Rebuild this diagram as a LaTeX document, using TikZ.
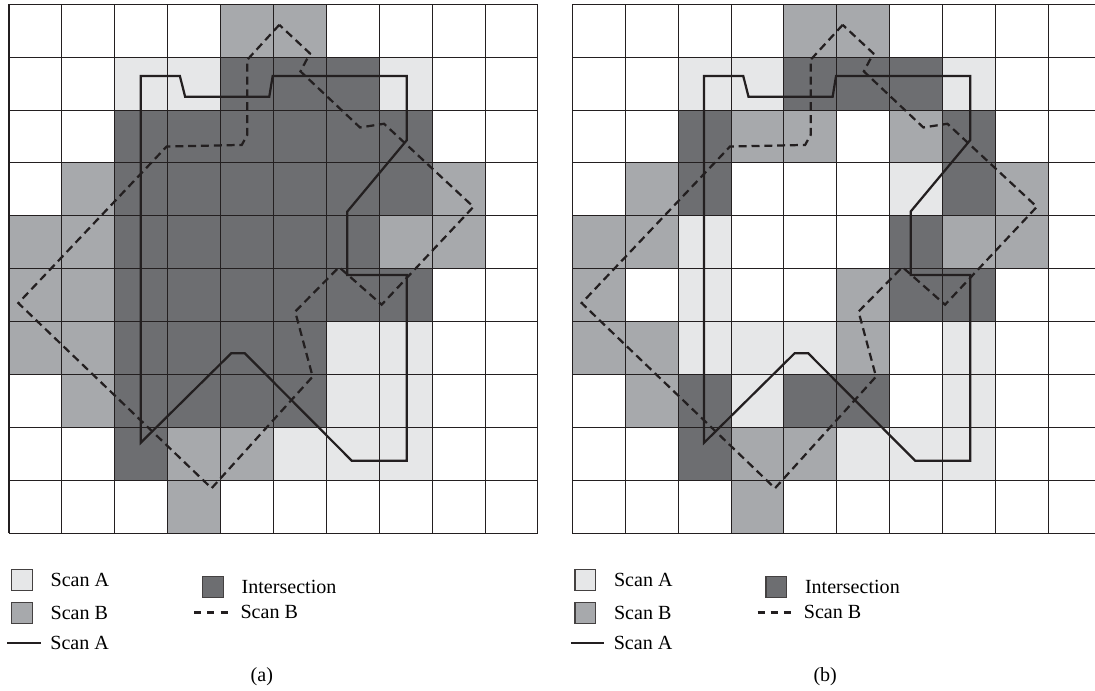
\documentclass[tikz,border=0pt]{standalone}
\usepackage{fontspec}
\setmainfont{Liberation Serif}
\usetikzlibrary{positioning}

\definecolor{scanA}{HTML}{E6E7E8}
\definecolor{scanB}{HTML}{A7A9AC}
\definecolor{both}{HTML}{6D6E71}
\definecolor{ink}{HTML}{231F20}

\begin{document}
\begin{tikzpicture}[
  gridline/.style={draw=ink, line width=0.55pt},
  outlineA/.style={draw=ink, line width=1.2pt, line join=miter},
  outlineB/.style={draw=ink, line width=1.2pt, dash pattern=on 4.3pt off 2.6pt},
  keydash/.style={draw=ink, line width=1.2pt, dash pattern=on 3.8pt off 3.3pt},
  swatch/.style={draw=ink!85, line width=0.6pt, minimum size=0.39cm, inner sep=0pt},
  keytext/.style={font=\fontsize{10.8}{12}\selectfont, inner sep=0pt},
]
\useasboundingbox (-0.17,-2.98) rectangle (20.53,10.08);

% === Panel (a): union of the two scans ===
\begin{scope}
  \foreach \c/\r in {2/8,3/8,7/8,6/3,7/3,6/2,7/2,5/1,6/1,7/1}
    \fill[scanA] (\c,\r) rectangle ++(1,1);
  \foreach \c/\r in {4/9,5/9,1/6,8/6,0/5,1/5,7/5,8/5,0/4,1/4,0/3,1/3,1/2,3/1,4/1,3/0}
    \fill[scanB] (\c,\r) rectangle ++(1,1);
  \foreach \c/\r in {4/8,5/8,6/8,
                     2/7,3/7,4/7,5/7,6/7,7/7,
                     2/6,3/6,4/6,5/6,6/6,7/6,
                     2/5,3/5,4/5,5/5,6/5,
                     2/4,3/4,4/4,5/4,6/4,7/4,
                     2/3,3/3,4/3,5/3,
                     2/2,3/2,4/2,5/2,
                     2/1}
    \fill[both] (\c,\r) rectangle ++(1,1);
\end{scope}

% === Panel (b): intersection only on the outline ===
\begin{scope}[xshift=10.65cm]
  \foreach \c/\r in {2/8,3/8,7/8,6/6,2/5,2/4,2/3,3/3,4/3,7/3,3/2,7/2,5/1,6/1,7/1}
    \fill[scanA] (\c,\r) rectangle ++(1,1);
  \foreach \c/\r in {4/9,5/9,3/7,4/7,6/7,1/6,8/6,0/5,1/5,7/5,8/5,0/4,5/4,0/3,1/3,5/3,1/2,3/1,4/1,3/0}
    \fill[scanB] (\c,\r) rectangle ++(1,1);
  \foreach \c/\r in {4/8,5/8,6/8,2/7,7/7,2/6,7/6,6/5,6/4,7/4,2/2,4/2,5/2,2/1}
    \fill[both] (\c,\r) rectangle ++(1,1);
\end{scope}

% === Grids, outlines and keys (same for both panels) ===
\foreach \p/\dx in {a/0,b/10.65} {
  \begin{scope}[xshift=\dx cm]
    \draw[gridline] (0,0) grid (10,10);

    % scan A outline
    \draw[outlineA] (2.49,8.645) -- (3.23,8.645) -- (3.33,8.25) -- (4.92,8.25)
      -- (4.985,8.645) -- (7.52,8.645) -- (7.52,7.43) -- (6.395,6.08)
      -- (6.395,4.88) -- (7.52,4.88) -- (7.52,1.37) -- (6.48,1.37)
      -- (4.46,3.40) -- (4.20,3.40) -- (2.49,1.71) -- cycle;
    % scan B outline
    \draw[outlineB] (5.11,9.61) -- (4.505,8.95) -- (4.505,7.53) -- (4.40,7.34)
      -- (2.98,7.31) -- (0.176,4.35) -- (3.83,0.85) -- (5.74,2.96)
      -- (5.41,4.19) -- (6.24,5.03) -- (7.045,4.32) -- (8.78,6.17)
      -- (7.09,7.74) -- (6.635,7.67) -- (5.51,8.73) -- (5.69,9.07) -- cycle;

    % key
    \node[swatch, fill=scanA] (keyA-\p) at (0.245,-0.883) {};
    \node[keytext, right=0.33 of keyA-\p] (keyAtext-\p) {Scan A};
    \node[swatch, fill=scanB] (keyB-\p) at (0.245,-1.513) {};
    \node[keytext, right=0.33 of keyB-\p] (keyBtext-\p) {Scan B};
    \coordinate (lineA-\p) at (-0.03,-2.075);
    \coordinate (lineAend-\p) at (0.60,-2.075);
    \draw[outlineA] (lineA-\p) -- (lineAend-\p);
    \node[keytext, anchor=west] (lineAtext-\p) at (0.776,-2.068) {Scan A};

    \node[swatch, fill=both] (keyI-\p) at (3.855,-1.02) {};
    \node[keytext, right=0.33 of keyI-\p] (keyItext-\p) {Intersection};
    \coordinate (lineB-\p) at (3.50,-1.50);
    \coordinate (lineBend-\p) at (4.14,-1.50);
    \draw[keydash] (lineB-\p) -- (lineBend-\p);
    \node[keytext, anchor=west] (lineBtext-\p) at (4.37,-1.482) {Scan B};

    \node[keytext] (caption-\p) at (4.78,-2.71) {(\p)};
  \end{scope}
}
\end{tikzpicture}
\end{document}
